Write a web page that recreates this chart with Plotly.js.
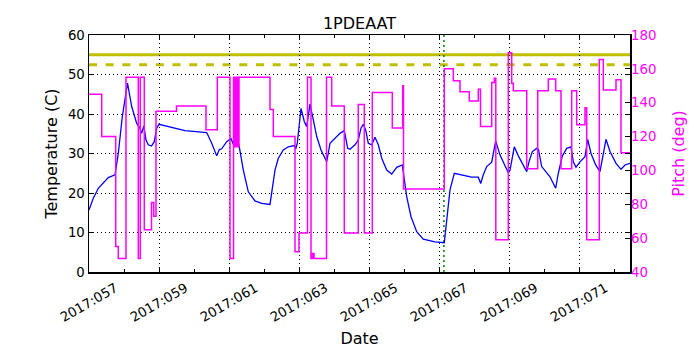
<!DOCTYPE html>
<html>
<head>
<meta charset="utf-8">
<script src="https://cdn.plot.ly/plotly-3.0.1.min.js"></script>
<style>
  html, body { margin: 0; padding: 0; background: white; }
  #chart { width: 700px; height: 350px; }
</style>
</head>
<body>
<div id="chart"></div>
<script>
// day of year 2017 (fractional) for the temperature samples
const tempDay = [
    57.000, 57.123, 57.266, 57.409, 57.551, 57.743, 57.837, 57.951, 58.100, 58.220,
    58.363, 58.457, 58.506, 58.566, 58.629, 58.694, 58.786, 58.866, 58.934, 59.000,
    59.171, 59.363, 59.600, 59.743, 60.363, 60.506, 60.649, 60.723, 60.791, 60.934,
    61.057, 61.151, 61.220, 61.294, 61.409, 61.551, 61.743, 61.934, 62.171, 62.220,
    62.314, 62.409, 62.551, 62.694, 62.866, 62.906, 62.951, 63.057, 63.151, 63.220,
    63.314, 63.409, 63.506, 63.629, 63.791, 63.886, 64.029, 64.171, 64.294, 64.391,
    64.457, 64.600, 64.694, 64.771, 64.837, 64.906, 64.980, 65.077, 65.171, 65.266,
    65.363, 65.506, 65.649, 65.694, 65.791, 65.951, 65.980, 66.077, 66.200, 66.363,
    66.551, 66.886, 67.151, 67.220, 67.314, 67.437, 67.551, 67.743, 67.934, 68.123,
    68.191, 68.266, 68.363, 68.506, 68.620, 68.743, 68.886, 68.980, 69.029, 69.151,
    69.266, 69.391, 69.506, 69.571, 69.666, 69.791, 69.843, 69.934, 70.077, 70.171,
    70.266, 70.334, 70.409, 70.523, 70.649, 70.771, 70.837, 70.914, 71.029, 71.171,
    71.249, 71.343, 71.477, 71.600, 71.771, 71.886, 72.057, 72.200, 72.314, 72.457
];
const tempC = [
    15.7, 18.7, 21.2, 22.6, 23.9, 24.6, 30.0, 39.3, 47.8, 41.9,
    37.6, 36.4, 35.1, 37.0, 33.4, 32.2, 31.9, 33.0, 36.4, 37.4,
    37.0, 36.5, 36.1, 35.8, 35.3, 32.6, 29.4, 31.0, 31.2, 33.0,
    33.8, 31.7, 34.1, 31.7, 25.8, 20.3, 18.0, 17.4, 17.1, 19.9,
    25.8, 28.8, 30.9, 31.7, 32.0, 31.1, 32.6, 41.4, 38.1, 36.8,
    42.5, 38.5, 34.3, 30.9, 27.9, 32.6, 33.8, 35.1, 35.8, 31.3,
    31.1, 32.2, 33.4, 36.4, 37.4, 35.9, 32.6, 32.2, 34.1, 32.2,
    28.8, 25.8, 24.8, 25.4, 26.5, 27.1, 25.0, 19.1, 14.0, 10.2,
    8.3, 7.6, 7.4, 13.0, 20.8, 25.0, 24.8, 24.3, 24.0, 24.0,
    22.4, 24.6, 26.7, 27.8, 33.2, 29.6, 26.7, 25.1, 25.8, 31.7,
    29.4, 27.1, 25.4, 27.9, 30.5, 31.3, 31.0, 26.7, 25.1, 24.1,
    22.4, 21.2, 25.0, 29.4, 31.3, 31.7, 27.9, 26.5, 27.9, 29.2,
    33.6, 30.0, 27.1, 25.4, 33.6, 30.5, 27.5, 26.0, 27.1, 27.5
];

// pitch changes (held until the next sample)
const pitchDay = [
    57.000, 57.363, 57.763, 57.837, 58.057, 58.409, 58.466, 58.580, 58.786, 58.849,
    58.914, 59.500, 60.343, 60.666, 61.029, 61.129, 61.171, 61.214, 61.243, 61.286,
    62.171, 62.266, 62.886, 63.000, 63.243, 63.343, 63.386, 63.429, 63.786, 63.934,
    64.294, 64.694, 64.866, 65.094, 65.666, 65.963, 65.986, 67.151, 67.409, 67.600,
    67.866, 68.123, 68.186, 68.506, 68.580, 68.623, 68.980, 69.077, 69.123, 69.506,
    69.820, 70.123, 70.334, 70.486, 70.791, 70.934, 71.171, 71.220, 71.580, 71.694,
    72.057, 72.200, 72.457
];
const pitchDeg = [
    145, 120, 55, 48, 155, 48, 155, 65, 81, 73,
    135, 138, 124, 155, 48, 155, 114, 155, 114, 155,
    136, 120, 52, 63, 155, 48, 51, 48, 155, 138,
    63, 139, 63, 146, 125, 150, 89, 160, 153, 146.5,
    141, 148, 126, 152, 154.5, 59, 169.5, 151.5, 147, 101,
    147, 154, 147, 101, 147, 127, 137, 59, 165.5, 147.5,
    153.5, 110.5, 110.5
];

// limits and marker
const planLimit = 55;
const cautionLimit = 52.5;
const eventDay = 67.14;

const tickDays = [57, 59, 61, 63, 65, 67, 69, 71];
const tickLabels = ['2017:057', '2017:059', '2017:061', '2017:063',
                    '2017:065', '2017:067', '2017:069', '2017:071'];
const minorDays = [58, 60, 62, 64, 66, 68, 70, 72];

const fontFamily = 'DejaVu Sans, sans-serif';
const dotted = '1px,3px';

const traces = [
    {
        x: tempDay, y: tempC,
        mode: 'lines', type: 'scatter',
        line: { color: '#0000ff', width: 1.3 },
        hoverinfo: 'skip'
    },
    {
        x: pitchDay, y: pitchDeg,
        mode: 'lines', type: 'scatter', yaxis: 'y2',
        line: { color: '#ff00ff', width: 1.5, shape: 'hv' },
        hoverinfo: 'skip'
    }
];

// rotated date labels, centred on their ticks
const tickAnnotations = tickDays.map((d, i) => ({
    x: d, xref: 'x',
    y: 0, yref: 'paper',
    text: tickLabels[i],
    textangle: -30,
    xanchor: 'center', yanchor: 'top',
    yshift: -5,
    showarrow: false,
    font: { family: fontFamily, size: 13.3, color: 'black' }
}));

const layout = {
    width: 700, height: 350,
    margin: { l: 89, r: 70, t: 35, b: 78 },
    paper_bgcolor: 'white', plot_bgcolor: 'white',
    font: { family: fontFamily, size: 13.3, color: 'black' },
    showlegend: false,
    title: {
        text: '1PDEAAT',
        font: { size: 16 },
        xref: 'paper', x: 0.5, xanchor: 'center',
        yref: 'paper', y: 1, yanchor: 'bottom',
        pad: { b: 6 }
    },
    xaxis: {
        range: [57, 72.457],
        tickmode: 'array', tickvals: tickDays,
        showticklabels: false,
        ticks: 'inside', ticklen: 5, tickcolor: 'black',
        minor: { tickvals: minorDays, ticks: 'inside', ticklen: 3, tickcolor: 'black', showgrid: false },
        showgrid: true, gridcolor: 'black', gridwidth: 1, griddash: dotted,
        showline: true, linecolor: 'black', linewidth: 1.5, mirror: 'ticks',
        zeroline: false,
        title: { text: 'Date', standoff: 60 }
    },
    yaxis: {
        range: [0, 60], tick0: 0, dtick: 10,
        ticks: 'inside', ticklen: 5, tickcolor: 'black',
        showgrid: true, gridcolor: 'black', gridwidth: 1, griddash: dotted,
        showline: true, linecolor: 'black', linewidth: 1.5, mirror: 'ticks',
        zeroline: false,
        title: { text: 'Temperature (C)', standoff: 6 }
    },
    yaxis2: {
        overlaying: 'y', side: 'right',
        range: [40, 180], tick0: 40, dtick: 20,
        ticks: 'inside', ticklen: 5, tickcolor: 'black',
        tickfont: { color: '#ff00ff' },
        showgrid: false, zeroline: false, showline: false,
        title: { text: 'Pitch (deg)', font: { color: '#ff00ff' }, standoff: 17 }
    },
    shapes: [
        {
            type: 'line', layer: 'below',
            xref: 'x domain', x0: 0, x1: 1,
            yref: 'y', y0: planLimit, y1: planLimit,
            line: { color: '#bfbf00', width: 3 }
        },
        {
            type: 'line', layer: 'below',
            xref: 'x domain', x0: 0, x1: 1,
            yref: 'y', y0: cautionLimit, y1: cautionLimit,
            line: { color: '#bfbf00', width: 3, dash: '8px,8.7px' }
        },
        {
            type: 'line', layer: 'below',
            xref: 'x', x0: eventDay, x1: eventDay,
            yref: 'y domain', y0: 0, y1: 1,
            line: { color: '#008000', width: 1.5, dash: '2px,3px' }
        }
    ],
    annotations: tickAnnotations
};

Plotly.newPlot('chart', traces, layout, { staticPlot: true, displayModeBar: false });
</script>
</body>
</html>
